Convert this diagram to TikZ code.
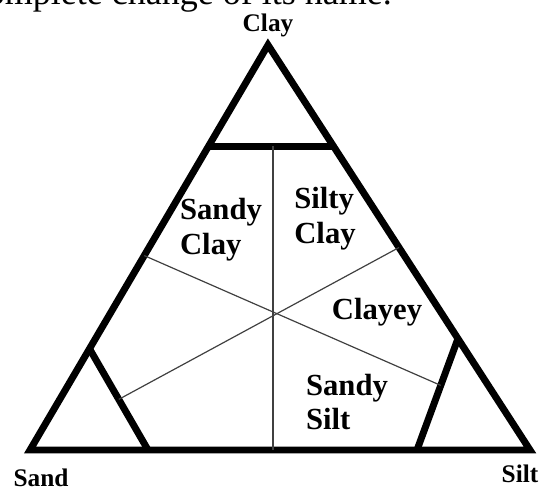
\documentclass[tikz,border=0pt]{standalone}
\usepackage{fontspec}
\setmainfont{Liberation Serif}
\usetikzlibrary{calc}

\begin{document}
\begin{tikzpicture}[x=0.75pt, y=-0.75pt,
    bold line/.style={line width=5.2pt},
    thin line/.style={line width=0.9pt, black!75},
    zone/.style={font=\fontsize{23}{26}\selectfont\bfseries, align=left, inner sep=0pt},
    corner/.style={font=\fontsize{19}{22}\selectfont\bfseries, inner sep=0pt}]
    \useasboundingbox (0,0) rectangle (542,491);

    % caption line cut off by the page edge
    \node[anchor=base east, font=\fontsize{27}{30}\selectfont, inner sep=0pt] (caption) at (392,5) {complete change of its name.};

    % corners of the triangle
    \coordinate (sand) at (30,450);
    \coordinate (silt) at (530,450);
    \coordinate (clay) at (268,45);
    \coordinate (o) at (273,316);

    % thick boundaries
    \draw[bold line] (sand) -- (clay) -- (silt) -- cycle;
    \draw[bold line] ($(clay)!0.25!(sand)$) coordinate (tl) -- ($(clay)!0.25!(silt)$) coordinate (tr);
    \draw[bold line] (148,450) coordinate (lb) -- ($(clay)!0.75!(sand)$) coordinate (lt);
    \draw[bold line] (417,450) coordinate (rb) -- ($(clay)!0.725!(silt)$) coordinate (rt);

    % thin dividers
    \draw[thin line] (tl -| o) -- (sand -| o);
    \draw[thin line] ($(clay)!0.52!(sand)$) -- ($(rb)!0.58!(rt)$);
    \draw[thin line] ($(lb)!0.5!(lt)$) -- ($(clay)!0.5!(silt)$);

    % zone names
    \node[zone] (sandyclay) at (221,230) {Sandy\\Clay};
    \node[zone] (siltyclay) at (325,219) {Silty\\Clay};
    \node[zone, anchor=base] (clayey) at (377,320) {Clayey};
    \node[zone] (sandysilt) at (347,402) {Sandy\\Silt};

    % corner names
    \node[corner] (claylabel) at (268,25) {Clay};
    \node[corner] (sandlabel) at (41,478) {Sand};
    \node[corner] (siltlabel) at (520,474) {Silt};
\end{tikzpicture}
\end{document}
